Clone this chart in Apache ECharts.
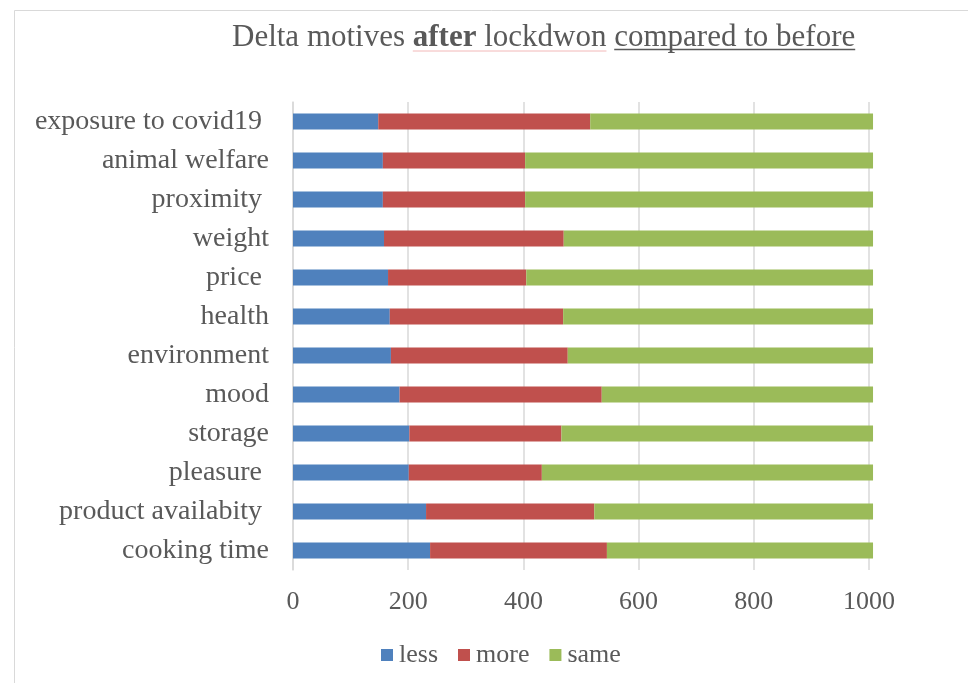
<!DOCTYPE html>
<html><head><meta charset="utf-8">
<script src="https://cdn.jsdelivr.net/npm/echarts@6/dist/echarts.min.js"></script>
<style>html,body{margin:0;padding:0;background:#fff}#c{width:968px;height:683px}</style>
</head><body><div id="c"></div>
<script>
const categories = ['cooking time','product availabity ','pleasure ','storage','mood','environment','health','price ','weight','proximity ','animal welfare','exposure to covid19 '];
const lessValues = [238,231,201,202,185,170,168,165,158,156,156,148];
const moreValues = [307,292,231,264,351,307,301,240,312,247,247,368];
const sameValues = [462,484,575,541,471,530,538,602,537,604,604,491];
const seriesNames = ['less','more','same'];
const seriesColors = ['#4f81bd','#c0504d','#9bbb59'];
const titleParts = ['Delta motives ','after',' lockdwon ','compared to before'];

const FONT = 'Liberation Serif';
const TXT = '#595959';
const titleSize = 31, titleLeft = 232, titleTop = 20, titleLH = 36;

const cv = document.createElement('canvas').getContext('2d');
function w(s, bold){ cv.font = (bold?'bold ':'') + titleSize + 'px "' + FONT + '"'; return cv.measureText(s).width; }
const x0 = titleLeft;
const xAfter = x0 + w(titleParts[0]);
const xAfterEnd = xAfter + w(titleParts[1], true);
const xLockEnd = xAfterEnd + w(' lockdwon');
const xComp = xAfterEnd + w(titleParts[2]);
const xCompEnd = xComp + w(titleParts[3]);

const chart = echarts.init(document.getElementById('c'));
const data = [lessValues, moreValues, sameValues];
chart.setOption({
  animation: false,
  backgroundColor: '#fff',
  title: {
    text: '{n|' + titleParts[0] + '}{b|' + titleParts[1] + '}{n|' + titleParts[2] + titleParts[3] + '}',
    left: titleLeft, top: titleTop, padding: 0,
    textStyle: {
      fontWeight: 'normal',
      rich: {
        n: {fontFamily: FONT, fontSize: titleSize, color: TXT, fontWeight: 'normal', lineHeight: titleLH},
        b: {fontFamily: FONT, fontSize: titleSize, color: TXT, fontWeight: 'bold', lineHeight: titleLH}
      }
    }
  },
  graphic: [
    {type: 'rect', shape: {x: 14.5, y: 10.5, width: 1000, height: 1000}, style: {fill: 'none', stroke: '#d9d9d9', lineWidth: 1}, silent: true},
    {type: 'line', shape: {x1: xComp, y1: 49.5, x2: xCompEnd, y2: 49.5}, style: {stroke: '#595959', lineWidth: 1.5}, silent: true},
    {type: 'line', shape: {x1: xAfter, y1: 51, x2: xLockEnd, y2: 51}, style: {stroke: '#f2b8b8', lineWidth: 1}, silent: true}
  ],
  legend: {
    data: seriesNames,
    bottom: 10, left: 376,
    icon: 'rect', itemWidth: 12, itemHeight: 12, itemGap: 20,
    textStyle: {fontFamily: FONT, fontSize: 26, color: TXT, padding: [0,0,0,1]}
  },
  grid: {left: 293, right: 99, top: 102, bottom: 113, containLabel: false},
  xAxis: {
    type: 'value', min: 0, max: 1000, interval: 200,
    axisLine: {show: false}, axisTick: {show: false},
    splitLine: {show: true, lineStyle: {color: '#d9d9d9', width: 1.5}},
    axisLabel: {fontFamily: FONT, fontSize: 26, color: TXT, margin: 19, formatter: v => String(v)}
  },
  yAxis: {
    type: 'category', data: categories,
    axisLine: {show: true, lineStyle: {color: '#d9d9d9', width: 1.5}},
    axisTick: {show: false},
    axisLabel: {fontFamily: FONT, fontSize: 28, color: TXT, margin: 24}
  },
  series: seriesNames.map((n, i) => ({
    name: n, type: 'bar', stack: 'total', data: data[i], barWidth: 16, clip: false,
    itemStyle: {color: seriesColors[i]}
  }))
});
</script></body></html>
